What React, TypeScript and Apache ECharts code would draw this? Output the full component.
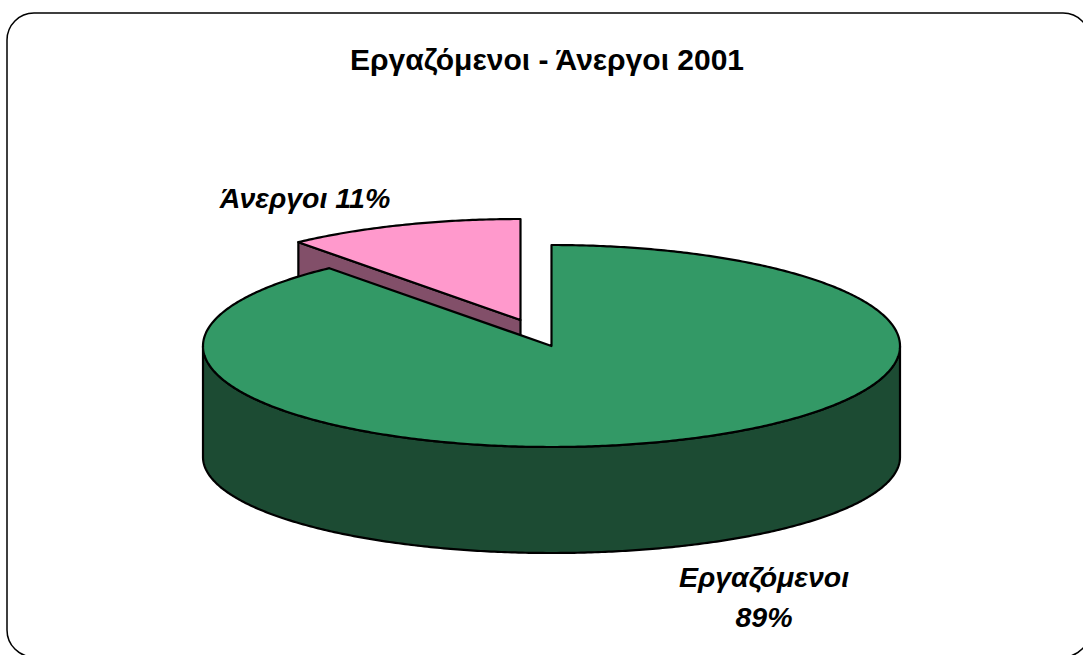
import React, { useEffect, useRef } from "react";
import * as echarts from "echarts";

const TITLE = "Εργαζόμενοι - Άνεργοι 2001";
const categories = ["Εργαζόμενοι", "Άνεργοι"];
const shares = [89, 11];
const topColors = ["#339966", "#FF99CC"];
const sideColors = ["#1C4B33", "#824F69"];

const FONT = '"Liberation Sans", Arial, sans-serif';

export default function App() {
  const ref = useRef<HTMLDivElement>(null);
  useEffect(() => {
    document.body.style.margin = "0";
    const chart = echarts.init(ref.current!, undefined, { renderer: "svg" });
    const total = shares.reduce((a, b) => a + b, 0);
    const RX = 348.5, RY = 101, DEPTH = 111, BOTTOM_RY = 96;
    const centers = [[551.5, 346], [520.5, 320]];
    const layers = [10, 0];
    const labels = [
      { x: 764, y: 597 },
      { x: 305, y: 198 },
    ];
    const renderItem = (params: any, api: any) => {
      const i = params.dataIndex;
      const value = api.value(0);
      let before = 0;
      for (let k = 0; k < i; k++) before += shares[k];
      const a0 = (before / total) * 2 * Math.PI;
      const a1 = ((before + value) / total) * 2 * Math.PI;
      const [cx, cy] = centers[i];
      const pt = (a: number, bottom = false) =>
        bottom
          ? [cx + RX * Math.sin(a), cy + DEPTH - BOTTOM_RY * Math.cos(a)]
          : [cx + RX * Math.sin(a), cy - RY * Math.cos(a)];
      const arc = (from: number, to: number, bottom = false) => {
        const n = Math.max(2, Math.ceil(Math.abs(to - from) / 0.01));
        const pts: number[][] = [];
        for (let s = 0; s <= n; s++) pts.push(pt(from + ((to - from) * s) / n, bottom));
        return pts;
      };
      const stroke = { stroke: "#000", lineWidth: 2.2, lineJoin: "round" };
      const children: any[] = [];
      // outer rim wall: the front half of the ellipse within this slice
      const w0 = Math.max(a0, Math.PI / 2);
      const w1 = Math.min(a1, (3 * Math.PI) / 2);
      if (w1 > w0) {
        children.push({
          type: "polygon",
          shape: { points: [...arc(w0, w1), ...arc(w1, w0, true)] },
          style: { fill: sideColors[i], ...stroke },
          z2: layers[i],
        });
      }
      // cut wall facing the viewer
      if (i === 1) {
        const c = [cx, cy];
        const e = pt(a0);
        children.push({
          type: "polygon",
          shape: { points: [e, c, [c[0], c[1] + DEPTH], [e[0], e[1] + DEPTH]] },
          style: { fill: sideColors[i], ...stroke },
          z2: layers[i],
        });
      }
      children.push({
        type: "polygon",
        shape: { points: [[cx, cy], ...arc(a0, a1)] },
        style: { fill: topColors[i], ...stroke },
        z2: layers[i] + 1,
      });
      const name = categories[i];
      const l = labels[i];
      children.push({
        type: "text",
        x: l.x,
        y: l.y,
        style: {
          text: i === 0 ? `${name}\n${value}%` : `${name} ${value}%`,
          fill: "#000",
          font: `italic bold 28.5px ${FONT}`,
          lineHeight: 40,
          align: "center",
          verticalAlign: "middle",
        },
        z2: 20,
      });
      return { type: "group", children };
    };
    chart.setOption({
      animation: false,
      backgroundColor: "#fff",
      title: {
        text: TITLE,
        left: 542,
        top: 39,
        textAlign: "center",
        textStyle: { fontFamily: FONT, fontWeight: "bold", fontSize: 30, color: "#000" },
      },
      graphic: [
        {
          type: "rect",
          shape: { x: 7, y: 13, width: 1083, height: 644, r: 27 },
          style: { fill: "none", stroke: "#000", lineWidth: 1.5 },
        },
      ],
      series: [
        {
          type: "custom",
          coordinateSystem: "none",
          renderItem,
          data: shares.map((v) => [v]),
        },
      ],
    });
    return () => chart.dispose();
  }, []);
  return <div ref={ref} style={{ width: 1083, height: 655 }} />;
}
